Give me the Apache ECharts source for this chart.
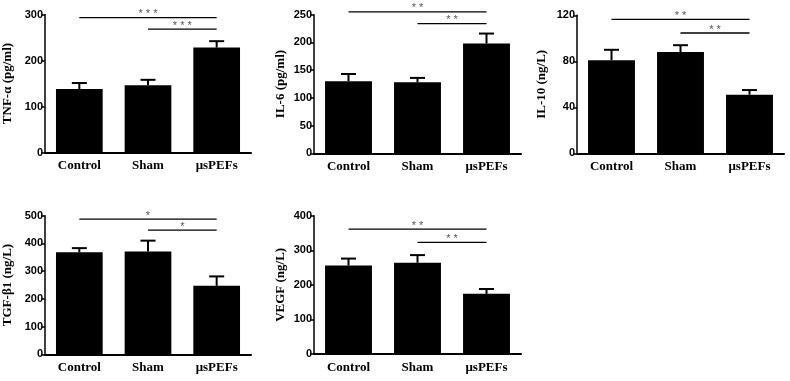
<!DOCTYPE html>
<html>
<head>
<meta charset="utf-8">
<script src="https://cdn.jsdelivr.net/npm/echarts@6/dist/echarts.min.js"></script>
<style>html,body{margin:0;padding:0;background:#fff}#c{width:790px;height:381px}</style>
</head>
<body>
<div id="c"></div>
<script>
// ---- data ----
var categories = ['Control', 'Sham', 'μsPEFs'];

var tnfMean = [138, 146, 228];
var tnfErr  = [13, 12, 14];
var tnfTicks = [0, 100, 200, 300];
var tnfSig  = [[0, 2, 293, '* * *'], [1, 2, 268, '* * *']];

var il6Mean = [130, 128, 198];
var il6Err  = [13, 8, 18];
var il6Ticks = [0, 50, 100, 150, 200, 250];
var il6Sig  = [[0, 2, 255, '* *'], [1, 2, 234, '* *']];

var il10Mean = [81, 88, 51];
var il10Err  = [9, 6, 4];
var il10Ticks = [0, 40, 80, 120];
var il10Sig  = [[0, 2, 116.5, '* *'], [1, 2, 104.6, '* *']];

var tgfMean = [368, 371, 247];
var tgfErr  = [15, 39, 34];
var tgfTicks = [0, 100, 200, 300, 400, 500];
var tgfSig  = [[0, 2, 488, '*'], [1, 2, 448, '*']];

var vegfMean = [256, 264, 174];
var vegfErr  = [20, 22, 14];
var vegfTicks = [0, 100, 200, 300, 400];
var vegfSig  = [[0, 2, 361, '* *'], [1, 2, 323, '* *']];

var yNames = ['TNF-α (pg/ml)', 'IL-6 (pg/ml)', 'IL-10 (ng/L)', 'TGF-β1 (ng/L)', 'VEGF (ng/L)'];

// ---- layout ----
var panels = [
  {mean: tnfMean, err: tnfErr, ticks: tnfTicks, sig: tnfSig, grid: {left: 44, top: 14.5, width: 207, height: 138}, gap: 31},
  {mean: il6Mean, err: il6Err, ticks: il6Ticks, sig: il6Sig, grid: {left: 314, top: 14.7, width: 207, height: 138.6}, gap: 27},
  {mean: il10Mean, err: il10Err, ticks: il10Ticks, sig: il10Sig, grid: {left: 577, top: 15.3, width: 207, height: 138}, gap: 29},
  {mean: tgfMean, err: tgfErr, ticks: tgfTicks, sig: tgfSig, grid: {left: 44, top: 215.7, width: 207, height: 138.6}, gap: 31},
  {mean: vegfMean, err: vegfErr, ticks: vegfTicks, sig: vegfSig, grid: {left: 314, top: 215.7, width: 207, height: 138.3}, gap: 27}
];

var sans = '"Liberation Sans", Arial, sans-serif';
var serif = '"Liberation Serif", "Times New Roman", serif';

var grids = [], xAxes = [], yAxes = [], series = [];
panels.forEach(function (p, i) {
  grids.push(p.grid);
  xAxes.push({
    type: 'category', gridIndex: i, data: categories,
    axisLine: {lineStyle: {color: '#000', width: 2}},
    axisTick: {alignWithLabel: true, length: 4, lineStyle: {color: '#000', width: 1.5}},
    axisLabel: {color: '#000', fontFamily: serif, fontWeight: 'bold', fontSize: 13, margin: 7}
  });
  var t = p.ticks;
  yAxes.push({
    type: 'value', gridIndex: i, min: t[0], max: t[t.length - 1], interval: t[1] - t[0],
    name: yNames[i], nameLocation: 'middle', nameGap: p.gap,
    nameTextStyle: {color: '#000', fontFamily: serif, fontWeight: 'bold', fontSize: 13},
    axisLine: {show: true, lineStyle: {color: '#000', width: 1.5}},
    axisTick: {show: true, length: 4, lineStyle: {color: '#000', width: 1.5}},
    axisLabel: {color: '#000', fontFamily: sans, fontWeight: 'bold', fontSize: 11, margin: 2},
    splitLine: {show: false}
  });
  series.push({
    type: 'bar', xAxisIndex: i, yAxisIndex: i, data: p.mean, barWidth: '68%',
    itemStyle: {color: '#000'}, silent: true, animation: false
  });
  series.push({
    type: 'custom', xAxisIndex: i, yAxisIndex: i, animation: false, silent: true,
    data: p.mean.map(function (m, k) { return [k, m, p.err[k]]; }),
    renderItem: function (params, api) {
      var x = api.value(0), m = api.value(1), e = api.value(2);
      var a = api.coord([x, m]), b = api.coord([x, m + e]);
      var hw = 7.5;
      return {type: 'group', children: [
        {type: 'line', shape: {x1: a[0], y1: a[1], x2: b[0], y2: b[1]}, style: {stroke: '#000', lineWidth: 2}},
        {type: 'line', shape: {x1: b[0] - hw, y1: b[1], x2: b[0] + hw, y2: b[1]}, style: {stroke: '#000', lineWidth: 2}}
      ]};
    }
  });
  series.push({
    type: 'custom', xAxisIndex: i, yAxisIndex: i, animation: false, silent: true, clip: false,
    data: p.sig.map(function (s) { return [s[0], s[2]]; }),
    renderItem: function (params, api) {
      var s = p.sig[params.dataIndex];
      var a = api.coord([s[0], s[2]]), b = api.coord([s[1], s[2]]);
      return {type: 'group', children: [
        {type: 'line', shape: {x1: a[0], y1: a[1], x2: b[0], y2: b[1]}, style: {stroke: '#000', lineWidth: 1.3}},
        {type: 'text', style: {text: s[3], x: (a[0] + b[0]) / 2, y: a[1] - 3.5, align: 'center', verticalAlign: 'middle',
          fill: '#555', font: '11px ' + sans}}
      ]};
    }
  });
});

var chart = echarts.init(document.getElementById('c'), null, {renderer: 'canvas'});
chart.setOption({
  backgroundColor: '#fff',
  animation: false,
  grid: grids, xAxis: xAxes, yAxis: yAxes, series: series
});
</script>
</body>
</html>
